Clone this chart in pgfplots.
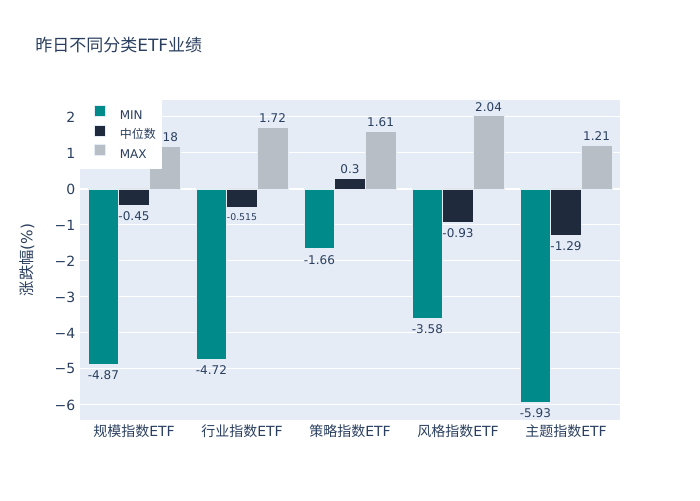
\documentclass[border=0pt]{standalone}
\usepackage{pgfplots}
\pgfplotsset{compat=1.18}
\usepackage{fontspec}
\setmainfont{DejaVu Sans}
\newfontfamily\cjk{Noto Sans CJK SC}
\definecolor{minc}{HTML}{008B8A}
\definecolor{medc}{HTML}{1F2A3D}
\definecolor{maxc}{HTML}{B8BEC6}
\definecolor{bg}{HTML}{E5ECF6}
\definecolor{txt}{HTML}{2A3F5F}
\protected\def\smallA{\raisebox{2pt}{\fontsize{7}{8}\selectfont -0.515}}
\begin{document}
\begin{tikzpicture}
\useasboundingbox (0,0) rectangle (525pt,375pt);
\node[anchor=west, font=\fontsize{12.75}{15}\selectfont, text=txt, inner sep=0pt] at (26.25pt,341.25pt) {{\cjk 昨日不同分类}ETF{\cjk 业绩}};
\node[rotate=90, font=\fontsize{11.5}{14}\selectfont, text=txt, inner sep=0pt] at (20.25pt,180pt) {{\cjk 涨跌幅}(\%)};
\begin{axis}[
  at={(60pt,60pt)}, anchor=south west, scale only axis,
  width=405pt, height=240pt,
  xmin=-0.5, xmax=4.5, ymin=-6.417, ymax=2.472,
  axis background/.style={fill=bg},
  axis line style={draw=none},
  major tick length=0pt,
  xtick={0,1,2,3,4},
  xticklabels={{\cjk 规模指数}ETF,{\cjk 行业指数}ETF,{\cjk 策略指数}ETF,{\cjk 风格指数}ETF,{\cjk 主题指数}ETF},
  ytick={-6,-5,-4,-3,-2,-1,0,1,2},
  yticklabels={−6,−5,−4,−3,−2,−1,0,1,2},
  tick label style={font=\fontsize{10.5}{12}\selectfont, text=txt},
  ymajorgrids, grid style={white, line width=0.75pt},
  extra y ticks={0}, extra y tick labels={},
  extra y tick style={grid style={white, line width=1.5pt}},
  clip=false,
  ybar, bar width=0.2833,
  point meta=y,
  visualization depends on={value \thisrow{lbl} \as \lbl},
  nodes near coords={\lbl},
  nodes near coords align={vertical},
  nodes near coords style={font=\fontsize{9}{10}\selectfont, text=txt, inner sep=1.5pt, text height=9.9pt, text depth=1.7pt},
  legend style={at={(0,1)}, anchor=north west, fill=white, draw=none,
    font=\fontsize{9}{10}\selectfont, text=txt,
    inner xsep=4.5pt, inner ysep=3.7pt, column sep=10.5pt,
    nodes={inner sep=0pt, text height=10pt, text depth=4.25pt}},
  legend cell align=left,
  legend image code/.code={\path (0pt,0pt); \fill[#1] (6pt,-0.825pt) rectangle (14.25pt,7.425pt);},
]
\addplot[fill=minc, draw=bg, line width=0.375pt, bar shift=-0.2833] table[x=x, y=y] {
x y lbl
0 -4.87 -4.87
1 -4.72 -4.72
2 -1.66 -1.66
3 -3.58 -3.58
4 -5.93 -5.93
};
\addlegendentry{MIN}
\addplot[fill=medc, draw=bg, line width=0.375pt, bar shift=0] table[x=x, y=y] {
x y lbl
0 -0.45 -0.45
1 -0.515 \smallA
2 0.3 0.3
3 -0.93 -0.93
4 -1.29 -1.29
};
\addlegendentry{\cjk 中位数}
\addplot[fill=maxc, draw=bg, line width=0.375pt, bar shift=0.2833] table[x=x, y=y] {
x y lbl
0 1.18 1.18
1 1.72 1.72
2 1.61 1.61
3 2.04 2.04
4 1.21 1.21
};
\addlegendentry{MAX}
\end{axis}
\end{tikzpicture}
\end{document}
